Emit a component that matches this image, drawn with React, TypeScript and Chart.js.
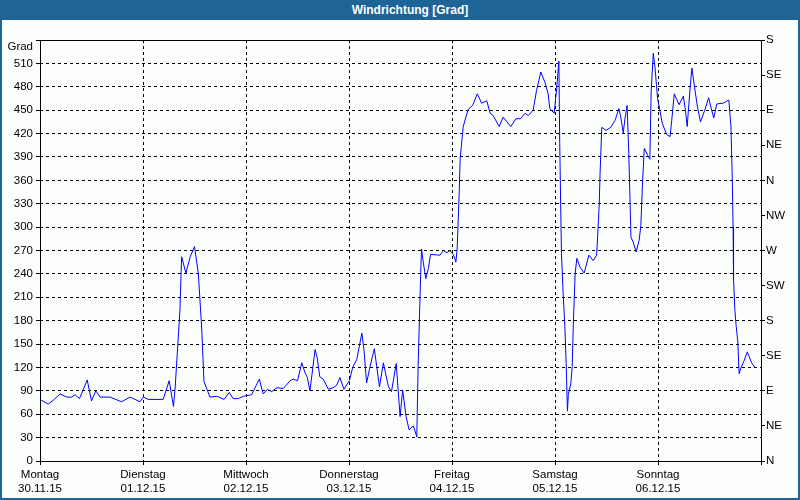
import React, { useEffect, useRef } from "react";
import { Chart, registerables } from "chart.js";

Chart.register(...registerables);

// Hours since Monday 30.11.15 00:00
const hours = [
  0.0, 1.9, 3.1, 4.7, 6.2, 7.4, 8.2, 9.2, 11.0, 12.0, 13.0, 14.0, 16.3, 19.0, 21.0, 23.3,
  24.1, 25.2, 28.7, 30.1, 31.1, 31.5, 32.6, 33.0, 34.0, 35.0, 36.0, 36.9, 37.7, 38.2, 39.6, 41.2,
  42.9, 44.1, 45.0, 46.2, 47.4, 49.3, 51.1, 52.0, 53.0, 54.0, 55.2, 56.7, 58.3, 59.0, 60.0, 61.0,
  61.7, 62.3, 62.9, 64.1, 64.6, 65.2, 66.0, 67.2, 68.3, 69.1, 69.9, 70.8, 72.1, 72.9, 73.8, 75.0,
  75.5, 76.1, 76.9, 77.9, 79.1, 80.0, 81.2, 81.9, 83.0, 83.9, 84.5, 85.3, 86.0, 87.0, 87.8, 88.1,
  88.7, 88.9, 89.3, 89.9, 90.5, 91.0, 93.2, 94.0, 94.8, 95.5, 96.3, 96.9, 97.2, 97.7, 97.9, 98.3,
  98.6, 99.0, 99.8, 100.8, 101.9, 102.9, 104.1, 104.9, 105.6, 107.0, 107.9, 109.7, 110.9, 112.0, 113.0, 113.8,
  114.9, 115.7, 116.7, 117.7, 118.4, 118.8, 119.8, 120.4, 120.9, 121.1, 121.5, 121.9, 122.3, 122.6, 122.9, 123.1,
  123.7, 124.0, 124.3, 124.7, 125.1, 125.8, 126.8, 127.9, 128.9, 129.7, 129.9, 130.3, 130.5, 130.9, 131.9, 133.0,
  134.0, 134.9, 135.3, 135.9, 136.3, 136.8, 137.2, 137.7, 138.2, 138.9, 139.6, 140.0, 140.4, 140.8, 141.6, 142.1,
  142.4, 142.9, 143.3, 143.9, 144.5, 145.0, 146.0, 146.8, 147.2, 147.8, 148.9, 149.9, 150.4, 150.8, 151.5, 151.9,
  152.5, 153.2, 153.9, 154.9, 155.8, 156.5, 157.0, 157.7, 159.2, 160.5, 161.0, 161.3, 161.5, 161.6, 161.9, 162.2,
  162.6, 162.9, 163.3, 164.1, 164.8, 165.8, 166.6,
];

// Wind direction in degrees (unwrapped)
const degrees = [
  79, 73, 78, 86, 82, 82, 85, 80, 104, 77, 90, 82, 82, 76, 82, 76,
  82, 79, 79, 103, 70, 95, 193, 262, 241, 262, 275, 240, 168, 102, 82, 83,
  79, 88, 80, 80, 83, 85, 105, 86, 92, 89, 94, 93, 103, 105, 103, 126,
  114, 107, 90, 143, 132, 108, 105, 92, 94, 97, 107, 92, 103, 121, 130, 164,
  142, 100, 121, 144, 95, 126, 95, 89, 125, 57, 91, 57, 40, 45, 31, 121,
  240, 272, 255, 234, 247, 265, 264, 270, 267, 270, 265, 255, 272, 347, 388, 411,
  428, 437, 451, 456, 471, 459, 462, 446, 443, 429, 441, 429, 439, 439, 446, 443,
  450, 475, 499, 485, 471, 452, 446, 478, 513, 407, 266, 215, 172, 125, 64, 85,
  100, 121, 181, 241, 260, 249, 241, 264, 257, 264, 285, 328, 369, 428, 424, 428,
  437, 452, 442, 421, 439, 456, 394, 287, 281, 268, 283, 302, 358, 401, 392, 387,
  473, 523, 505, 465, 448, 433, 419, 416, 437, 471, 457, 468, 450, 429, 480, 504,
  480, 454, 435, 450, 466, 450, 440, 458, 459, 463, 429, 364, 300, 234, 194, 174,
  153, 112, 119, 129, 140, 126, 120,
];

const dayNames = ["Montag", "Dienstag", "Mittwoch", "Donnerstag", "Freitag", "Samstag", "Sonntag"];
const dayDates = ["30.11.15", "01.12.15", "02.12.15", "03.12.15", "04.12.15", "05.12.15", "06.12.15"];
const compassLabels = ["N", "NE", "E", "SE", "S", "SW", "W", "NW", "N", "NE", "E", "SE", "S"];
const yUnitLabel = "Grad";
const titleText = "Windrichtung [Grad]";

const FONT = "'Liberation Sans', Arial, sans-serif";
const FS = 11.5;

export default function App() {
  const canvasRef = useRef<HTMLCanvasElement | null>(null);

  useEffect(() => {
    const canvas = canvasRef.current;
    if (!canvas) return;
    Chart.defaults.font.family = FONT;
    Chart.defaults.font.size = FS;
    Chart.defaults.color = "#000";

    const framePlugin = {
      id: "frame",
      beforeDatasetsDraw(chart: any) {
        const { ctx, chartArea } = chart;
        const l = Math.round(chartArea.left);
        const t = Math.round(chartArea.top);
        const r = Math.round(chartArea.right);
        const b = Math.round(chartArea.bottom);
        ctx.save();
        ctx.strokeStyle = "#000";
        ctx.lineWidth = 1;
        ctx.setLineDash([]);
        ctx.strokeRect(l + 0.5, t + 0.5, r - l, b - t);
        ctx.restore();
      },
    };

    const chart = new Chart(canvas, {
      type: "line",
      data: {
        datasets: [
          {
            data: hours.map((h, i) => ({ x: h, y: degrees[i] })),
            borderColor: "#0000FF",
            borderWidth: 1,
            pointRadius: 0,
            tension: 0,
            fill: false,
          },
        ],
      },
      options: {
        animation: false,
        responsive: false,
        layout: { padding: { top: 40, left: 0, right: 0, bottom: 0 } },
        plugins: {
          legend: { display: false },
          tooltip: { enabled: false },
          title: { display: false },
        },
        scales: {
          x: {
            type: "linear",
            min: 0,
            max: 168,
            border: { display: false, dash: [3, 3] },
            grid: {
              color: "#000",
              tickColor: "#000",
              tickLength: 4,
              tickBorderDash: [],
              lineWidth: 1,
            },
            ticks: {
              stepSize: 24,
              autoSkip: false,
              maxRotation: 0,
              padding: 3,
              font: { family: FONT, size: FS, lineHeight: 1.22 },
              callback: (v: any) => {
                const i = Math.round(Number(v) / 24);
                if (i >= 0 && i < dayNames.length) return [dayNames[i], dayDates[i]];
                return "";
              },
            },
            afterFit: (s: any) => {
              s.height = 39;
            },
          },
          y: {
            position: "left",
            min: 0,
            max: 540,
            border: { display: false, dash: [3, 3] },
            grid: {
              color: "#000",
              tickColor: "#000",
              tickLength: 4,
              tickBorderDash: [],
              lineWidth: 1,
            },
            ticks: {
              stepSize: 30,
              autoSkip: false,
              padding: 3,
              font: { family: FONT, size: FS, lineHeight: 1.2 },
              callback: (v: any) => (Number(v) === 540 ? ["", yUnitLabel] : String(v)),
            },
            afterFit: (s: any) => {
              s.width = 40;
            },
          },
          y2: {
            position: "right",
            min: 0,
            max: 540,
            border: { display: false },
            grid: {
              drawOnChartArea: false,
              color: "#000",
              tickColor: "#000",
              tickLength: 4,
              lineWidth: 1,
            },
            ticks: {
              stepSize: 45,
              autoSkip: false,
              padding: 1,
              font: { family: FONT, size: FS },
              callback: (v: any) => {
                const i = Math.round(Number(v) / 45);
                return compassLabels[i] ?? "";
              },
            },
            afterFit: (s: any) => {
              s.width = 39;
            },
          },
        },
      },
      plugins: [framePlugin],
    });

    return () => {
      chart.destroy();
    };
  }, []);

  return (
    <div
      style={{
        position: "absolute",
        left: 0,
        top: 0,
        width: 800,
        height: 500,
        background: "#1E6496",
        overflow: "hidden",
      }}
    >
      <div
        style={{
          position: "absolute",
          left: 0,
          top: 0,
          width: 800,
          height: 20,
          lineHeight: "20px",
          paddingLeft: 20,
          boxSizing: "border-box",
          textAlign: "center",
          color: "#fff",
          fontFamily: FONT,
          fontWeight: "bold",
          fontSize: 12,
        }}
      >
        {titleText}
      </div>
      <div
        style={{
          position: "absolute",
          left: 2,
          top: 20,
          width: 796,
          height: 478,
          background: "#FCFEFC",
        }}
      />
      <canvas
        ref={canvasRef}
        width={800}
        height={500}
        style={{ position: "absolute", left: 0, top: 0, width: 800, height: 500 }}
      />
    </div>
  );
}
